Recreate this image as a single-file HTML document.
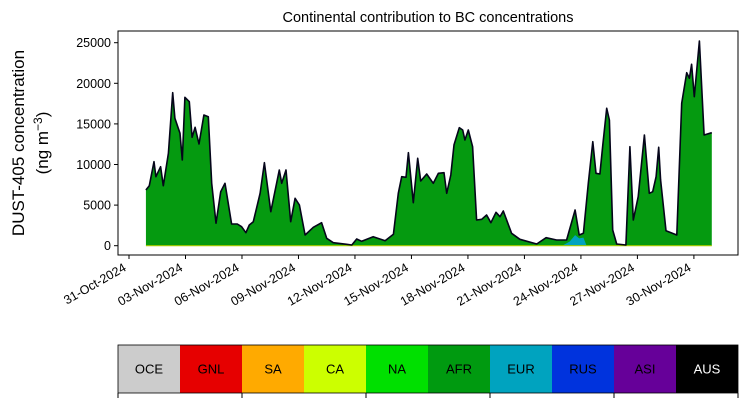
<!DOCTYPE html>
<html><head><meta charset="utf-8"><style>
body{margin:0;background:#fff;}
svg{display:block;font-family:"Liberation Sans",sans-serif;}
</style></head><body>
<svg id="chart" width="748" height="402"></svg>
<script>
const days=[0.90,1.08,1.33,1.43,1.68,1.82,2.09,2.32,2.44,2.71,2.83,2.97,3.20,3.35,3.51,3.72,3.98,4.21,4.39,4.62,4.87,5.10,5.45,5.75,5.98,6.21,6.39,6.60,6.96,7.19,7.53,7.98,8.11,8.34,8.59,8.82,9.05,9.35,9.79,10.23,10.50,10.85,11.56,11.83,12.09,12.36,12.97,13.60,14.04,14.30,14.48,14.71,14.84,15.10,15.33,15.49,15.81,16.16,16.43,16.73,16.87,17.09,17.26,17.54,17.72,17.84,18.02,18.25,18.46,18.73,18.99,19.22,19.49,19.70,19.88,20.32,20.76,21.65,22.15,22.71,23.24,23.69,23.91,24.13,24.39,24.63,24.80,25.01,25.16,25.37,25.51,25.69,25.90,26.39,26.60,26.78,27.04,27.37,27.63,27.81,27.99,28.13,28.23,28.52,29.09,29.35,29.62,29.76,29.88,30.02,30.29,30.54,30.95];
const totals=[6860,7390,10340,8500,9730,7390,11380,18840,15690,13840,10550,18280,17730,13350,14580,12520,16090,15890,7680,2770,6650,7680,2670,2670,2340,1600,2550,2960,6450,10220,4190,9320,7680,9320,2960,5840,5010,1320,2270,2830,910,370,170,90,830,540,1110,620,1400,6450,8500,8420,11450,5300,10760,7970,8830,7680,8920,8990,6450,8710,12410,14530,14250,13020,14250,12190,3160,3250,3780,2830,4110,3570,4270,1530,790,210,990,700,700,4400,1320,1530,7680,12810,8920,8830,12400,16920,15480,1930,210,90,12190,3160,6030,13630,6450,6650,8500,12120,8090,1850,1320,17540,21300,20620,22340,18350,25210,13630,13920];
const eurDays=[23.0,23.4,23.69,23.91,24.13,24.3];
const eurVals=[0,500,1300,900,1000,0];
const yTicks=[0,5000,10000,15000,20000,25000];
const xTickDays=[0,3,6,9,12,15,18,21,24,27,30];
const xTickLabels=["31-Oct-2024","03-Nov-2024","06-Nov-2024","09-Nov-2024","12-Nov-2024","15-Nov-2024","18-Nov-2024","21-Nov-2024","24-Nov-2024","27-Nov-2024","30-Nov-2024"];
const regions=["OCE","GNL","SA","CA","NA","AFR","EUR","RUS","ASI","AUS"];
const regionColors=["#cccccc","#e60000","#ffaa00","#ccff00","#00e000","#009a10","#00a3bf","#0033dd","#660099","#000000"];

const NS="http://www.w3.org/2000/svg";
const svg=document.getElementById('chart');
const L=118,R=738,T=31,B=255;
const X=d=>129+d*18.83;
const Y=v=>245.7-v*(40.6/5000);
function mk(tag,attrs,parent){const e=document.createElementNS(NS,tag);for(const k in attrs)e.setAttribute(k,attrs[k]);(parent||svg).appendChild(e);return e;}

let t=mk('text',{x:428,y:22,'text-anchor':'middle','font-size':14.5,fill:'#000'});t.textContent='Continental contribution to BC concentrations';



let d='M'+X(days[0])+','+Y(0);
days.forEach((dd,i)=>{d+=' L'+X(dd).toFixed(1)+','+Y(totals[i]).toFixed(1);});
d+=' L'+X(days[days.length-1])+','+Y(0)+' Z';
let a=mk('path',{d:d,fill:'#059a10'});


let de='M'+X(eurDays[0])+','+Y(0);
eurDays.forEach((dd,i)=>{de+=' L'+X(dd).toFixed(1)+','+Y(eurVals[i]).toFixed(1);});
de+=' Z';
let e=mk('path',{d:de,fill:'#00a3bf'});


let bl=mk('line',{x1:X(days[0]),x2:X(days[days.length-1]),y1:Y(0),y2:Y(0),stroke:'#aacc00','stroke-width':1.2});


let lp='';
days.forEach((dd,i)=>{lp+=(i?' L':'M')+X(dd).toFixed(1)+','+Y(totals[i]).toFixed(1);});
let ln=mk('path',{d:lp,fill:'none',stroke:'#05051a','stroke-width':1.6,'stroke-linejoin':'round'});



let fr=mk('rect',{x:L,y:T,width:R-L,height:B-T,fill:'none',stroke:'#000','stroke-width':1});



yTicks.forEach(v=>{
  const y=Y(v);
  let tk=mk('line',{x1:L-4,x2:L,y1:y,y2:y,stroke:'#000'});
  
  
  let tx=mk('text',{x:L-7,y:y+4.5,'text-anchor':'end','font-size':12.5});tx.textContent=v;
  
  
});
xTickDays.forEach((dd,i)=>{
  const x=X(dd);
  let tk=mk('line',{x1:x,x2:x,y1:B,y2:B+4,stroke:'#000'});
  
  
  let tx=mk('text',{x:x-2,y:B+15,'text-anchor':'end','font-size':12.5,transform:`rotate(-30 ${x-2} ${B+15})`});tx.textContent=xTickLabels[i];
  
  
});

let g=mk('g',{transform:'translate(24,143) rotate(-90)'});
let yl=mk('text',{x:0,y:0,'text-anchor':'middle','font-size':17},g);yl.textContent='DUST-405 concentration';


let yl2=mk('text',{x:0,y:24,'text-anchor':'middle','font-size':17},g);
yl2.innerHTML='(ng m<tspan dy="-6" font-size="12">−3</tspan><tspan dy="6">)</tspan>';



const cw=(R-L)/regions.length;
regions.forEach((r,i)=>{
  let rc=mk('rect',{x:L+i*cw,y:345,width:cw,height:48,fill:regionColors[i]});
  
  
  let tx=mk('text',{x:L+i*cw+cw/2,y:373.5,'text-anchor':'middle','font-size':13,fill:r==='AUS'?'#fff':'#000'});tx.textContent=r;
  
  
});
let lf=mk('rect',{x:L,y:345,width:R-L,height:48,fill:'none',stroke:'#000','stroke-width':0.8});


for(let i=0;i<=regions.length;i+=2){
  let tk=mk('line',{x1:L+i*cw,x2:L+i*cw,y1:393,y2:398,stroke:'#000'});
  
  
}
</script>
</body></html>
